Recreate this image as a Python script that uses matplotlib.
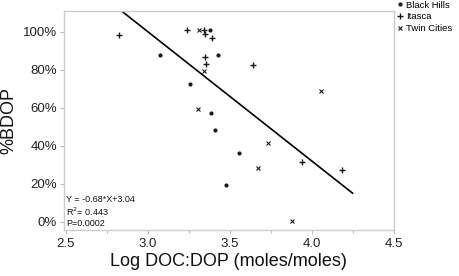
import matplotlib
matplotlib.use("Agg")
import matplotlib.pyplot as plt
from matplotlib.ticker import MultipleLocator, FuncFormatter

plt.rcParams['font.family'] = ['Liberation Sans', 'DejaVu Sans']

# Data
bh_x = [3.077, 3.380, 3.429, 3.256, 3.386, 3.412, 3.559, 3.477]
bh_y = [87.4, 100.9, 87.6, 72.6, 57.4, 48.1, 36.0, 19.2]
it_x = [2.825, 3.238, 3.343, 3.351, 3.390, 3.349, 3.355, 3.640, 3.939, 4.183]
it_y = [98.4, 100.9, 100.9, 98.6, 96.8, 86.7, 83.0, 82.3, 31.6, 27.2]
tc_x = [3.311, 3.343, 3.307, 3.674, 3.735, 3.878, 4.059]
tc_y = [100.9, 79.2, 59.3, 28.1, 41.4, 0.5, 68.8]
slope = -0.68
intercept = 3.04
line_x = [2.75, 4.25]
stats_text = ["Y = -0.68*X+3.04", "R$^2$= 0.443", "P=0.0002"]

fig = plt.figure(figsize=(4.59, 2.76), dpi=100)
ax = fig.add_axes([64/459, 1-230/276, (393.5-64)/459, (230-11)/276])

mc = '#1a1a1a'
ax.plot(bh_x, bh_y, linestyle='none', marker='o', ms=2.0, color=mc, label='Black Hills')
ax.plot(it_x, it_y, linestyle='none', marker='+', ms=5, mew=1.0, color=mc, label='Itasca')
ax.plot(tc_x, tc_y, linestyle='none', marker='x', ms=3.5, mew=0.8, color=mc, label='Twin Cities')
ax.plot(line_x, [100*(slope*x+intercept) for x in line_x], color='black', lw=1.2)

ax.set_xlim(2.49, 4.5)
ax.set_ylim(-4.4, 110.8)
ax.xaxis.set_major_locator(MultipleLocator(0.5))
ax.xaxis.set_minor_locator(MultipleLocator(0.25))
ax.yaxis.set_major_locator(MultipleLocator(20))
ax.xaxis.set_major_formatter(FuncFormatter(lambda v, p: f"{v:.1f}"))
ax.yaxis.set_major_formatter(FuncFormatter(lambda v, p: f"{v:.0f}%"))

for s in ax.spines.values():
    s.set_color('#cccccc')
    s.set_linewidth(1.0)
ax.tick_params(axis='both', which='both', color='#bbbbbb', labelsize=9.5, labelcolor='#222222', width=0.8)
ax.tick_params(axis='both', which='major', length=3)
ax.tick_params(axis='x', which='minor', length=2)
ax.tick_params(axis='x', pad=3)
ax.tick_params(axis='y', pad=2)

ax.set_xlabel('Log DOC:DOP (moles/moles)', fontsize=13, color='#111111', labelpad=2)
ax.set_ylabel('%BDOP', fontsize=13, color='#111111', labelpad=4)

for i, t in enumerate(stats_text):
    fig.text(66/459, 1-(199+12.5*i)/276, t, fontsize=6.5, va='center', ha='left', color='#111111')

leg = fig.legend(loc='upper left', bbox_to_anchor=(397/459, 1-0.5/276), frameon=False,
                 fontsize=6.8, handlelength=0.6, handletextpad=0.35, labelspacing=0.3,
                 borderaxespad=0.0, borderpad=0.0)

fig.savefig('out.png', dpi=100)
